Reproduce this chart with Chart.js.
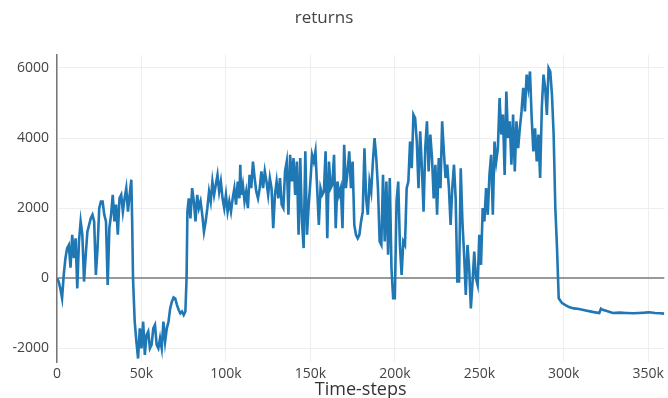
<!DOCTYPE html>
<html>
<head>
<meta charset="utf-8">
<script src="https://cdn.jsdelivr.net/npm/chart.js@4/dist/chart.umd.min.js"></script>
<style>
html, body { margin: 0; padding: 0; background: #fff; }
</style>
</head>
<body>
<canvas id="graficReturns" width="668" height="398"></canvas>
<script>
let steps = [
  0, 1000, 2000, 3000, 4000, 5000, 6000, 7000, 8000, 9000, 10000, 11000, 12000, 13000, 14000, 15000,
  16000, 17000, 18000, 19000, 20000, 21000, 22000, 23000, 24000, 25000, 26000, 27000, 28000, 29000, 30000,
  31000, 32000, 33000, 34000, 35000, 36000, 37000, 38000, 39000, 40000, 41000, 42000, 43000, 44000, 44500,
  45000, 46000, 47000, 48000, 49000, 50000, 51000, 52000, 53000, 54000, 55000, 56000, 57000, 58000, 59000,
  60000, 61000, 62000, 63000, 64000, 65000, 66000, 67000, 68000, 69000, 70000, 71000, 72000, 73000, 74000,
  75000, 76000, 76700, 77200, 78000, 79000, 80000, 81000, 82000, 83000, 84000, 85000, 86000, 87000, 88000,
  89000, 90000, 91000, 92000, 93000, 94000, 95000, 96000, 97000, 98000, 99000, 100000, 101000, 102000, 103000,
  104000, 105000, 106000, 107000, 108000, 108500, 109000, 110000, 111000, 112000, 113000, 114000, 115000, 116000, 117000,
  118000, 119000, 120000, 121000, 122000, 123000, 124000, 125000, 126000, 127000, 128000, 129000, 130000, 131000, 132000,
  133000, 134000, 135000, 136000, 137000, 138000, 139000, 140000, 141000, 142000, 143000, 144000, 145000, 146000, 147000,
  148000, 149000, 150000, 151000, 152000, 153000, 154000, 155000, 156000, 157000, 158000, 159000, 160000, 161000, 162000,
  163000, 164000, 165000, 166000, 167000, 168000, 169000, 170000, 171000, 172000, 173000, 174000, 175000, 176000, 177000,
  178000, 179000, 180000, 181000, 182000, 183000, 184000, 185000, 186000, 187000, 188000, 189000, 190000, 191000, 192000,
  193000, 194000, 195000, 196000, 197000, 198000, 199000, 200000, 201000, 202000, 203000, 204000, 205000, 206000, 207000,
  208000, 209000, 210000, 211000, 212000, 213000, 214000, 215000, 216000, 217000, 218000, 219000, 220000, 221000, 222000,
  223000, 224000, 225000, 226000, 227000, 228000, 229000, 230000, 231000, 232000, 233000, 234000, 235000, 236000, 237000,
  238000, 239000, 240000, 241000, 242000, 243000, 244000, 245000, 246000, 247000, 248000, 249000, 250000, 251000, 252000,
  253000, 254000, 255000, 256000, 257000, 258000, 259000, 260000, 261000, 262000, 263000, 264000, 265000, 266000, 267000,
  268000, 269000, 270000, 271000, 272000, 273000, 274000, 275000, 276000, 277000, 278000, 279000, 280000, 281000, 282000,
  283000, 284000, 285000, 286000, 287000, 288000, 289000, 290000, 291000, 292000, 293000, 294000, 295000, 296000, 297000,
  298000, 299000, 301000, 303000, 306000, 309000, 313000, 317000, 321000, 322000, 323000, 325000, 329000, 333000, 337000,
  341000, 344500, 348000, 350500, 354000, 357000, 359500
]

let returns = [
  0, -100, -300, -570, 100, 570, 860, 950, 300, 1240, 570, 1140, -290, 1050, 1620, 1240,
  -95, 670, 1330, 1520, 1710, 1810, 1620, 95, 860, 2000, 2190, 2190, 1810, 1620, -190,
  1430, 1810, 2380, 1620, 2100, 1240, 2280, 2380, 1900, 2280, 2570, 1900, 2380, 2810, 1600,
  0, -1240, -1810, -2290, -1430, -2000, -1240, -2190, -1620, -1520, -2000, -1900, -1430, -1330, -1900,
  -2000, -1710, -2000, -1240, -1810, -1430, -1240, -860, -670, -550, -580, -760, -900, -1000, -950,
  -1050, -950, 0, 1900, 2280, 1710, 2570, 2190, 1620, 2380, 2000, 2190, 1810, 1330, 1620,
  2000, 2470, 2190, 2760, 2380, 2670, 2950, 2470, 2760, 2280, 2000, 2380, 1900, 2190, 1900,
  2280, 2570, 2100, 2760, 2280, 3240, 2380, 2670, 2190, 2470, 2000, 2950, 2570, 3330, 2860,
  2470, 2280, 2570, 3050, 2570, 3050, 2760, 2380, 2860, 2570, 1430, 2380, 2760, 2280, 2860,
  2100, 2000, 3050, 3330, 1810, 3520, 2760, 3430, 2380, 3330, 1240, 3430, 1620, 860, 3620,
  1240, 2100, 2760, 3520, 3330, 3620, 2570, 1520, 2570, 2380, 2470, 3620, 1140, 3330, 2570,
  2670, 3520, 1430, 2760, 2380, 2570, 1430, 3810, 2570, 3050, 3620, 2570, 3330, 1520, 1240,
  1140, 1240, 1620, 1900, 3710, 2280, 1810, 2760, 2470, 3330, 4000, 3430, 2570, 1050, 950,
  2950, 1050, 2760, 670, 2860, 290, -570, -570, 2190, 2760, 950, 95, 1050, 950, 2570,
  2760, 3900, 3140, 4670, 4570, 3900, 2570, 4190, 3140, 1900, 3710, 4480, 3050, 4100, 3430,
  2280, 3240, 1810, 3430, 2570, 4480, 3620, 2860, 3240, 2570, 1520, 2570, 3240, 2280, -95,
  -95, 3140, 1620, 670, -480, 950, 290, -860, -95, 760, 0, -190, 1240, 380, 2000,
  1620, 2570, 1810, 2950, 3520, 1810, 3900, 3330, 3710, 5140, 4100, 4670, 2950, 5330, 4000,
  4480, 3240, 4670, 3050, 4480, 3710, 4280, 4760, 5430, 4760, 5810, 5430, 5900, 4570, 3620,
  4280, 3330, 4100, 2860, 4860, 5810, 5430, 4660, 6000, 5900, 5240, 4100, 2000, 860, -570,
  -640, -710, -770, -820, -860, -880, -920, -960, -990, -870, -900, -930, -990, -980, -990,
  -1000, -990, -980, -970, -990, -1000, -1010
]

let xTicks = [0, 50000, 100000, 150000, 200000, 250000, 300000, 350000]
let yTicks = [-2000, 0, 2000, 4000, 6000]

let pontos = steps.map((s, i) => ({ x: s, y: returns[i] }))

let tituloTopo = {
  id: 'tituloTopo',
  afterDraw(chart) {
    const c = chart.ctx
    c.save()
    c.font = '17px "Open Sans"'
    c.fillStyle = '#444'
    c.textAlign = 'center'
    c.textBaseline = 'middle'
    c.fillText('returns', 324, 18)
    c.restore()
  }
}

const graficReturns = document.getElementById('graficReturns')

new Chart(graficReturns, {
  type: 'line',
  data: {
    datasets: [{
      label: 'returns',
      data: pontos,
      borderColor: '#1f77b4',
      borderWidth: 2.6,
      pointRadius: 0,
      tension: 0,
      fill: false
    }]
  },
  options: {
    responsive: false,
    animation: false,
    devicePixelRatio: 1,
    layout: { padding: { left: 0, right: 3, top: 55, bottom: 0 } },
    plugins: {
      legend: { display: false },
      tooltip: { enabled: false }
    },
    scales: {
      x: {
        type: 'linear',
        min: 0,
        max: 359500,
        afterBuildTicks: s => { s.ticks = xTicks.map(v => ({ value: v })) },
        afterFit: s => { s.height = 36 },
        grid: { color: '#eee', drawTicks: false },
        border: { display: false },
        ticks: {
          color: '#444',
          font: { family: 'Open Sans', size: 14 },
          padding: 4,
          maxRotation: 0,
          callback: v => v === 0 ? '0' : (v / 1000) + 'k'
        },
        title: {
          display: true,
          text: 'Time-steps',
          color: '#333',
          font: { family: 'Open Sans', size: 18, lineHeight: 0.9 },
          padding: 0
        }
      },
      y: {
        min: -2390,
        max: 6370,
        afterBuildTicks: s => { s.ticks = yTicks.map(v => ({ value: v })) },
        afterFit: s => { s.width = 57 },
        grid: {
          color: c => (c.tick && c.tick.value === 0) ? '#999' : '#eee',
          lineWidth: c => (c.tick && c.tick.value === 0) ? 2 : 1,
          drawTicks: false
        },
        border: { display: true, color: '#777', width: 1.5 },
        ticks: {
          color: '#444',
          font: { family: 'Open Sans', size: 14 },
          padding: 8,
          callback: v => String(v)
        }
      }
    }
  },
  plugins: [tituloTopo]
})
</script>
</body>
</html>
